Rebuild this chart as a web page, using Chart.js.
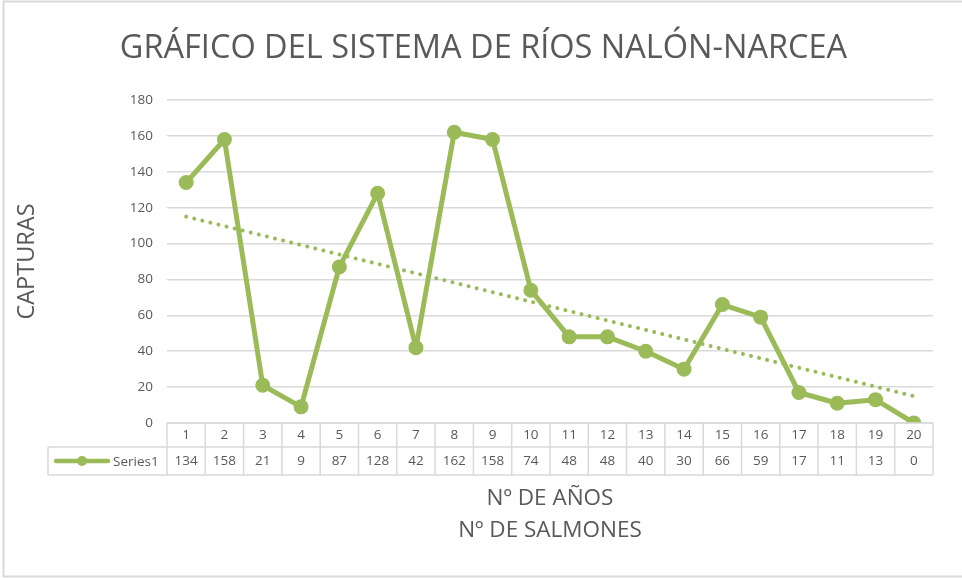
<!DOCTYPE html>
<html>
<head>
<meta charset="utf-8">
<script src="https://cdn.jsdelivr.net/npm/chart.js@4.4.1/dist/chart.umd.min.js"></script>
<style>
  html, body { margin: 0; padding: 0; background: #fff; }
  #wrap { position: relative; width: 962px; height: 578px; }
</style>
</head>
<body>
<div id="wrap"><canvas id="chart" width="962" height="578"></canvas></div>
<script>
// Data
const years = ['1', '2', '3', '4', '5', '6', '7', '8', '9', '10',
               '11', '12', '13', '14', '15', '16', '17', '18', '19', '20'];
const catches = [134, 158, 21, 9, 87, 128, 42, 162, 158, 74,
                 48, 48, 40, 30, 66, 59, 17, 11, 13, 0];
// dotted trend line, ends read at year 1 and year 20
const trendEnds = [115, 15];
const yMin = 0, yMax = 180, yStep = 20;

const green = '#9BBB59';
const grey = '#595959';
const lineGrey = '#d9d9d9';
const FONT = "'Open Sans', sans-serif";

const trendData = years.map((_, i) =>
  i === 0 ? trendEnds[0] : (i === years.length - 1 ? trendEnds[1] : null));

// frame round the chart + the data table under the axis
const tablePlugin = {
  id: 'dataTable',
  beforeDraw(chart) {
    const ctx = chart.ctx;
    ctx.save();
    ctx.fillStyle = '#fff';
    ctx.fillRect(0, 0, chart.width, chart.height);
    ctx.strokeStyle = lineGrey;
    ctx.lineWidth = 2;
    ctx.beginPath();
    ctx.moveTo(chart.width + 5, 1.5);
    ctx.lineTo(3.5, 1.5);
    ctx.lineTo(3.5, 576.5);
    ctx.lineTo(chart.width + 5, 576.5);
    ctx.stroke();
    ctx.restore();
  },
  afterDraw(chart) {
    const { ctx, chartArea } = chart;
    const x = chart.scales.x;
    const top = chartArea.bottom;
    const row1 = top + 24;
    const row2 = top + 52;
    const legLeft = 48;
    const half = (x.getPixelForValue(1) - x.getPixelForValue(0)) / 2;

    ctx.save();
    ctx.strokeStyle = lineGrey;
    ctx.lineWidth = 1.5;
    ctx.beginPath();
    ctx.moveTo(chartArea.left, top); ctx.lineTo(chartArea.right, top);
    ctx.moveTo(legLeft, row1); ctx.lineTo(chartArea.right, row1);
    ctx.moveTo(legLeft, row2); ctx.lineTo(chartArea.right, row2);
    for (let i = 0; i <= years.length; i++) {
      const px = i < years.length ? x.getPixelForValue(i) - half : x.getPixelForValue(i - 1) + half;
      ctx.moveTo(px, top); ctx.lineTo(px, row2);
    }
    ctx.moveTo(legLeft, row1); ctx.lineTo(legLeft, row2);
    ctx.stroke();

    // legend key in the first cell
    const ly = (row1 + row2) / 2;
    ctx.strokeStyle = green;
    ctx.lineWidth = 4.5;
    ctx.lineCap = 'round';
    ctx.beginPath();
    ctx.moveTo(56, ly); ctx.lineTo(108, ly);
    ctx.stroke();
    ctx.fillStyle = green;
    ctx.beginPath();
    ctx.arc(82, ly, 5, 0, Math.PI * 2);
    ctx.fill();
    ctx.fillStyle = grey;
    ctx.font = "13.5px " + FONT;
    ctx.textAlign = 'left';
    ctx.textBaseline = 'middle';
    ctx.fillText(chart.data.datasets[0].label, 113, ly + 1);
    ctx.restore();
  }
};

new Chart(document.getElementById('chart'), {
  type: 'line',
  data: {
    labels: years,
    datasets: [{
      label: 'Series1',
      data: catches,
      borderColor: green,
      backgroundColor: green,
      borderWidth: 5,
      borderJoinStyle: 'round',
      pointRadius: 6.5,
      pointBorderWidth: 2,
      pointBackgroundColor: green,
      pointBorderColor: green,
      tension: 0
    }, {
      label: 'Tendencia',
      data: trendData,
      spanGaps: true,
      borderColor: green,
      borderWidth: 4,
      borderDash: [0.01, 8.3],
      borderCapStyle: 'round',
      pointRadius: 0
    }]
  },
  options: {
    responsive: false,
    animation: false,
    devicePixelRatio: 1,
    // left padding evened with the right so the main title sits centred on the page
    layout: { padding: { left: 34, right: 29, top: 0, bottom: 31 } },
    plugins: {
      legend: { display: false },
      tooltip: { enabled: false },
      title: {
        display: true,
        text: 'GRÁFICO DEL SISTEMA DE RÍOS NALÓN-NARCEA',
        color: grey,
        font: { family: FONT, size: 32.5, weight: 'normal', lineHeight: 1.2 },
        padding: { top: 29, bottom: 32 }
      }
    },
    scales: {
      x: {
        offset: true,
        border: { display: false },
        grid: { display: false, drawTicks: false },
        ticks: {
          color: grey,
          autoSkip: false,
          maxRotation: 0,
          padding: -1,
          font: { family: FONT, size: 13.5, lineHeight: '26px' },
          callback: (v, i) => [years[i], String(catches[i])]
        },
        title: {
          display: true,
          text: ['Nº DE AÑOS', 'Nº DE SALMONES'],
          color: grey,
          font: { family: FONT, size: 22.5, lineHeight: '32px' },
          padding: { top: 10, bottom: 0 }
        }
      },
      y: {
        min: yMin,
        max: yMax,
        border: { display: false },
        grid: { color: lineGrey, lineWidth: 1.5, drawTicks: false },
        ticks: {
          stepSize: yStep,
          color: grey,
          padding: 14,
          font: { family: FONT, size: 13.5 }
        },
        title: {
          display: true,
          text: 'CAPTURAS',
          color: grey,
          font: { family: FONT, size: 23.5, lineHeight: 1.2 },
          padding: { top: -21, bottom: 0 }
        },
        afterFit: (s) => { s.width = 133; }
      }
    }
  },
  plugins: [tablePlugin]
});
</script>
</body>
</html>
